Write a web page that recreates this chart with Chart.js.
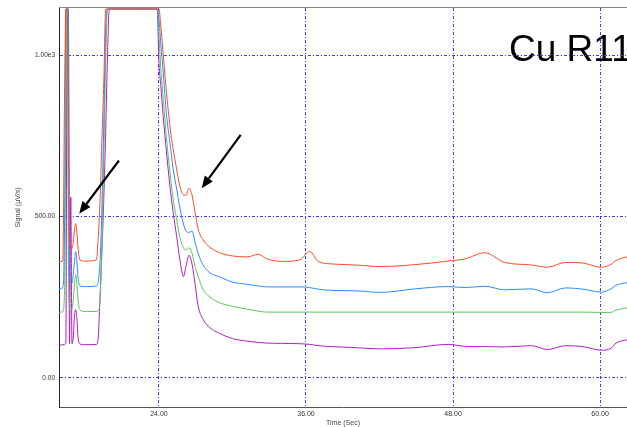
<!DOCTYPE html>
<html>
<head>
<meta charset="utf-8">
<script src="https://cdn.jsdelivr.net/npm/chart.js@4.4.0/dist/chart.umd.min.js"></script>
<style>
  html, body { margin: 0; padding: 0; background: #fff; }
</style>
</head>
<body>
<canvas id="grafica" width="627" height="427"></canvas>
<script>
// tiempo (s) y señales (µV/s); 1143 = saturado (tope del eje)
const tiempos = [15.84, 16.15, 16.3, 16.4, 16.5, 16.6, 16.7, 16.8, 16.9, 17.0, 17.1, 17.2, 17.3, 17.4, 17.55, 18.0,
  18.9, 19.05, 19.2, 19.35, 19.5, 19.65, 19.8, 19.95, 23.85, 24.0, 24.15, 24.35, 24.6, 24.9, 25.15, 25.45, 25.7,
  26.0, 26.2, 26.45, 26.7, 26.95, 27.2, 27.6, 28.15, 28.95, 30.0, 31.2, 32.1, 32.8, 34.1, 35.5, 36.3, 37.0, 38.2,
  40.0, 42.1, 44.9, 47.6, 49.0, 50.6, 52.2, 54.4, 55.7, 57.2, 58.6, 60.1, 60.9, 61.3, 62.2];

const rojo = [360, 362, 900, 1143, 1143, 800, 420, 405, 400, 420, 455, 478, 450, 400, 365, 362,
  366, 440, 560, 750, 920, 1143, 1143, 1143, 1143, 1143, 1090, 1001, 890, 778, 710, 645, 594,
  567, 566, 588, 566, 512, 460, 428, 405, 388, 378, 375, 383, 369, 361, 366, 392, 361, 353,
  350, 345, 351, 362, 369, 388, 358, 350, 343, 358, 356, 343, 352, 364, 375];

const azul = [277, 279, 500, 1143, 1143, 1143, 310, 297, 293, 320, 360, 391, 360, 310, 285, 283,
  285, 300, 370, 540, 800, 1080, 1143, 1143, 1143, 1112, 1035, 945, 820, 727, 650, 584, 528,
  477, 455, 451, 455, 420, 385, 350, 326, 313, 297, 290, 285, 282, 282, 282, 280, 275, 271,
  270, 265, 276, 283, 280, 284, 273, 276, 264, 279, 275, 266, 276, 287, 295];

const verde = [203, 205, 280, 800, 1143, 400, 215, 210, 212, 240, 290, 320, 290, 240, 210, 206,
  206, 207, 250, 420, 690, 980, 1143, 1143, 1143, 1060, 960, 862, 748, 636, 556, 490, 437,
  403, 397, 403, 385, 345, 315, 274, 251, 233, 222, 213, 207, 204, 204, 204, 204, 204, 204,
  204, 204, 204, 204, 204, 204, 204, 204, 204, 204, 204, 203, 203, 210, 217];

const morado = [101, 103, 104, 110, 1143, 1143, 106, 560, 106, 125, 190, 212, 185, 125, 105, 103,
  104, 130, 260, 400, 560, 760, 1000, 1143, 1143, 975, 905, 809, 705, 592, 515, 437, 368,
  314, 345, 380, 352, 290, 222, 182, 156, 138, 122, 114, 110, 108, 107, 106, 104, 100, 97,
  94, 90, 94, 104, 98, 97, 96, 100, 88, 100, 97, 86, 92, 108, 118];

const ticksX = [24, 36, 48, 60];
const ticksY = [0, 500, 1000];

// flechas: [x cola, y cola, x punta, y punta] en unidades de los ejes
const flechas = [
  [20.73, 673, 17.49, 509],
  [30.67, 753, 27.49, 588],
];

const fuente = "'Liberation Sans', Arial, sans-serif";

function serie(valores, color) {
  return {
    data: tiempos.map((t, i) => ({ x: t, y: valores[i] })),
    borderColor: color,
    borderWidth: 1,
    pointRadius: 0,
    fill: false,
    cubicInterpolationMode: "monotone",
  };
}

const anotaciones = {
  id: "anotaciones",
  beforeDraw(chart) {
    const ctx = chart.ctx;
    ctx.save();
    ctx.fillStyle = "#000";
    ctx.font = "37px " + fuente;
    ctx.textBaseline = "alphabetic";
    ctx.fillText("Cu R11", 509, 61);
    ctx.restore();
  },
  afterDraw(chart) {
    const { ctx, chartArea, scales } = chart;
    ctx.save();
    ctx.strokeStyle = "#8a8a8a";
    ctx.lineWidth = 1;
    ctx.beginPath();
    ctx.moveTo(chartArea.left, chartArea.top - 0.5);
    ctx.lineTo(chartArea.right, chartArea.top - 0.5);
    ctx.stroke();

    ctx.strokeStyle = "#000";
    ctx.fillStyle = "#000";
    flechas.forEach(([x0, y0, x1, y1]) => {
      const ax = scales.x.getPixelForValue(x0);
      const ay = scales.y.getPixelForValue(y0);
      const bx = scales.x.getPixelForValue(x1);
      const by = scales.y.getPixelForValue(y1);
      const ang = Math.atan2(by - ay, bx - ax);
      const largo = 12, ancho = 5;
      const cx = bx - largo * Math.cos(ang);
      const cy = by - largo * Math.sin(ang);
      ctx.lineWidth = 2.2;
      ctx.beginPath();
      ctx.moveTo(ax, ay);
      ctx.lineTo(cx, cy);
      ctx.stroke();
      ctx.beginPath();
      ctx.moveTo(bx, by);
      ctx.lineTo(cx + ancho * Math.sin(ang), cy - ancho * Math.cos(ang));
      ctx.lineTo(cx - ancho * Math.sin(ang), cy + ancho * Math.cos(ang));
      ctx.closePath();
      ctx.fill();
    });
    ctx.restore();
  },
};

new Chart(document.querySelector("#grafica"), {
  type: "line",
  data: {
    datasets: [
      serie(rojo, "#ff4a26"),
      serie(azul, "#2a8cff"),
      serie(verde, "#5cc45c"),
      serie(morado, "#b21cc8"),
    ],
  },
  options: {
    responsive: false,
    animation: false,
    devicePixelRatio: 1,
    layout: { padding: { top: 8, right: 0, left: 0, bottom: 0 } },
    scales: {
      x: {
        type: "linear",
        min: 15.84,
        max: 62.2,
        afterBuildTicks: (axis) => { axis.ticks = ticksX.map((v) => ({ value: v })); },
        afterFit: (axis) => { axis.height = 20; },
        grid: { color: "#3b3bff", lineWidth: 1, drawTicks: false },
        border: { color: "#555", width: 1, dash: [3, 2, 1, 2] },
        ticks: {
          padding: 3,
          maxRotation: 0,
          autoSkip: false,
          color: "#333",
          font: { family: fuente, size: 7 },
          callback: (v) => Number(v).toFixed(2),
        },
        title: {
          display: true,
          text: "Time (Sec)",
          color: "#444",
          font: { family: fuente, size: 7 },
          padding: { top: 1, bottom: 0 },
        },
      },
      y: {
        min: -90,
        max: 1146,
        afterBuildTicks: (axis) => { axis.ticks = ticksY.map((v) => ({ value: v })); },
        afterFit: (axis) => { axis.width = 59; },
        grid: { color: "#3b3bff", lineWidth: 1, drawTicks: false },
        border: { color: "#222", width: 1, dash: [3, 2, 1, 2] },
        ticks: {
          padding: 4,
          color: "#333",
          font: { family: fuente, size: 6.5 },
          callback: (v) => (v >= 1000 ? (v / 1000).toFixed(2) + "e3" : Number(v).toFixed(2)),
        },
        title: {
          display: true,
          text: "Signal (µV/s)",
          color: "#444",
          font: { family: fuente, size: 7 },
          padding: { top: 14, bottom: 0 },
        },
      },
    },
    plugins: {
      legend: { display: false },
      tooltip: { enabled: false },
    },
  },
  plugins: [anotaciones],
});
</script>
</body>
</html>
